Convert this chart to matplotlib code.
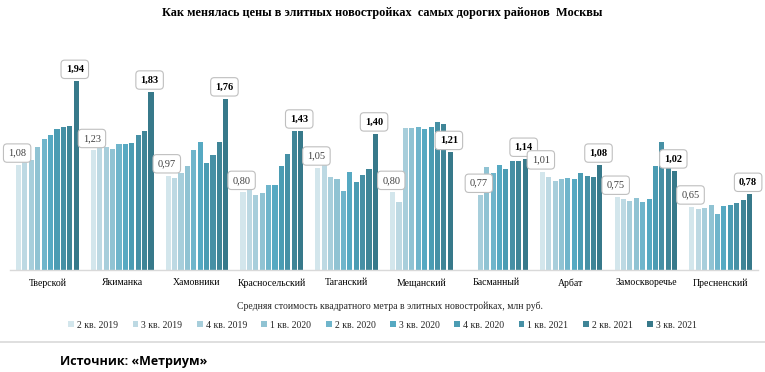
import matplotlib
matplotlib.use("Agg")
import matplotlib.pyplot as plt
import numpy as np

# Data (млн руб. за кв. м), one list per district, quarters 2 кв. 2019 .. 3 кв. 2021
districts = ["Тверской", "Якиманка", "Хамовники", "Красносельский", "Таганский",
             "Мещанский", "Басманный", "Арбат", "Замоскворечье", "Пресненский"]
quarters = ["2 кв. 2019", "3 кв. 2019", "4 кв. 2019", "1 кв. 2020", "2 кв. 2020",
            "3 кв. 2020", "4 кв. 2020", "1 кв. 2021", "2 кв. 2021", "3 кв. 2021"]

tverskoy = [1.08, 1.11, 1.13, 1.26, 1.35, 1.39, 1.45, 1.47, 1.48, 1.94]
yakimanka = [1.23, 1.25, 1.26, 1.24, 1.29, 1.29, 1.30, 1.39, 1.43, 1.83]
khamovniki = [0.97, 0.95, 1.00, 1.07, 1.23, 1.31, 1.10, 1.18, 1.31, 1.76]
krasnoselsky = [0.80, 0.84, 0.77, 0.79, 0.87, 0.87, 1.07, 1.19, 1.43, 1.43]
tagansky = [1.05, 1.08, 0.96, 0.94, 0.81, 1.01, 0.90, 0.98, 1.04, 1.40]
meshchansky = [0.80, 0.70, 1.46, 1.46, 1.47, 1.45, 1.47, 1.52, 1.50, 1.21]
basmanny = [np.nan, np.nan, 0.77, 1.06, 1.00, 1.08, 1.04, 1.12, 1.12, 1.14]
arbat = [1.01, 0.96, 0.91, 0.93, 0.95, 0.94, 1.00, 0.97, 0.96, 1.08]
zamoskvorechye = [0.75, 0.73, 0.71, 0.74, 0.70, 0.73, 1.07, 1.32, 1.06, 1.02]
presnensky = [0.65, 0.63, 0.64, 0.67, 0.58, 0.66, 0.67, 0.69, 0.72, 0.78]

colors = ["#d3e6ec", "#bdd9e3", "#a7cedb", "#90c3d3", "#6fb5cb",
          "#56a9c2", "#4b9cb3", "#4690a5", "#3f8597", "#37798a"]

values = np.array([tverskoy, yakimanka, khamovniki, krasnoselsky, tagansky,
                   meshchansky, basmanny, arbat, zamoskvorechye, presnensky])

serif = "Liberation Serif"

fig = plt.figure(figsize=(7.65, 3.72), dpi=100)
ax = fig.add_axes([0.013, 0.274, 0.978, 0.576])

x = np.arange(len(districts))
slot = 0.0856
width = 0.068
nq = len(quarters)
for q in range(nq):
    offs = (q - (nq - 1) / 2) * slot
    ax.bar(x + offs, values[:, q], width=width, color=colors[q],
           label=quarters[q], zorder=2)

# Data labels on first and last bars of each district
box = dict(boxstyle="round,pad=0.45,rounding_size=0.35", fc="white",
           ec="#bfbfbf", lw=0.8)
for i in range(len(districts)):
    row = values[i]
    valid = np.where(~np.isnan(row))[0]
    first, last = valid[0], valid[-1]
    for q, bold in ((first, False), (last, True)):
        xb = x[i] + (q - (nq - 1) / 2) * slot
        txt = "{0:.2f}".format(row[q]).replace(".", ",")
        ax.annotate(txt, (xb, row[q]), xytext=(-1, 8.5),
                    textcoords="offset points", ha="center", va="center",
                    fontsize=7.5, family=serif,
                    fontweight="bold" if bold else "normal",
                    color="black" if bold else "#404040",
                    bbox=box, zorder=5)

ax.set_xlim(-0.5, len(districts) - 0.5)
ax.set_ylim(0, 2.2)
ax.set_yticks([])
ax.set_xticks(x)
ax.set_xticklabels(districts, family=serif, fontsize=7)
ax.tick_params(axis="x", length=0, pad=6)
for s in ["top", "right", "left"]:
    ax.spines[s].set_visible(False)
ax.spines["bottom"].set_color("#d9d9d9")
ax.spines["bottom"].set_linewidth(1.0)

# Title and captions
fig.text(0.5, 0.965, "Как менялась цены в элитных новостройках  самых дорогих районов  Москвы",
         ha="center", va="center", fontsize=8.8, fontweight="bold", family=serif)
fig.text(0.51, 0.177, "Средняя стоимость квадратного метра в элитных новостройках, млн руб.",
         ha="center", va="center", fontsize=7, family=serif, color="#262626")

leg = fig.legend(loc="center", bbox_to_anchor=(0.5, 0.126), ncol=nq,
                 frameon=False, prop={"family": serif, "size": 7},
                 handlelength=0.6, handleheight=0.6, handletextpad=0.3,
                 columnspacing=1.5)
for t in leg.get_texts():
    t.set_color("#262626")

# Separator line and source
fig.add_artist(plt.Line2D([0, 1], [0.081, 0.081], transform=fig.transFigure,
                          color="#d9d9d9", lw=1.2))
fig.text(0.078, 0.027, "Источник: «Метриум»", ha="left", va="center",
         fontsize=9, fontweight="bold", family=["Open Sans", "DejaVu Sans"])

fig.savefig("out.png", dpi=100)
